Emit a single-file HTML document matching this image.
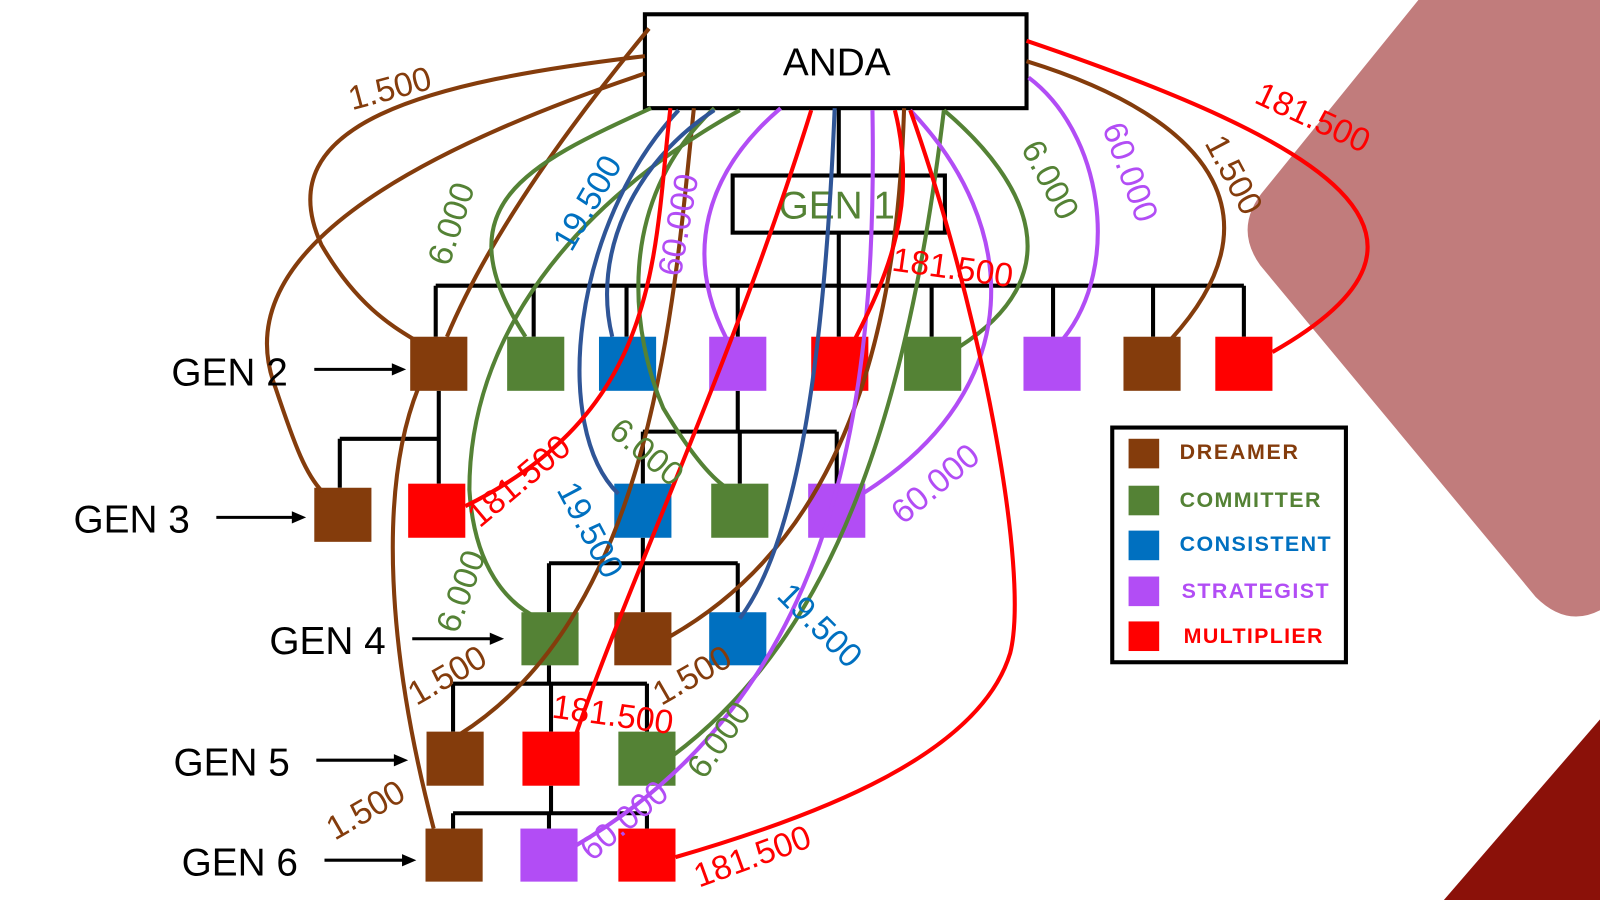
<!DOCTYPE html>
<html><head><style>html,body{margin:0;padding:0;background:#fff;width:1600px;height:900px;overflow:hidden}</style></head>
<body>
<svg width="1600" height="900" viewBox="0 0 1568 882" preserveAspectRatio="none" xmlns="http://www.w3.org/2000/svg" font-family="Liberation Sans, sans-serif">
<path d="M1390,0 L1568,0 L1568,598 Q1535,615 1505,585 L1235,260 Q1208,222 1240,185 Z" fill="#c17c7c"/>
<path d="M1568,705 L1415,882 L1568,882 Z" fill="#8b1109"/>

<g stroke="#000" stroke-width="4" fill="none">
<path d="M822,106 V280 M427,280 H1219 M427,280 V330 M523,280 V330 M614,280 V330 M723,280 V330 M822,280 V330 M913,280 V330 M1032,280 V330 M1130,280 V330 M1219,280 V330"/>
<path d="M430,383 V430 M333,430 H430 V474 M333,430 V478"/>
<path d="M723,383 V423 M630,423 H820 M630,423 V474 M725,423 V474 M820,423 V474"/>
<path d="M630,527 V552 M538,552 H723 M538,552 V600 M630,552 V600 M723,552 V600"/>
<path d="M538,652 V670 M444,670 H634 M444,670 V717 M540,670 V717 M634,670 V717"/>
<path d="M540,770 V797 M444,797 H634 M444,797 V812 M538,797 V812 M634,797 V812"/>
</g>
<rect x="632" y="14" width="374" height="92" fill="#fff" stroke="#000" stroke-width="4"/>
<text x="820" y="74" font-size="38" text-anchor="middle">ANDA</text>
<rect x="718" y="172" width="208" height="56" fill="#fff" stroke="#000" stroke-width="4"/>
<text x="820" y="214" font-size="38" text-anchor="middle" fill="#548235">GEN 1</text>

<g>
<rect x="402" y="330" width="56" height="53" fill="#843c0c"/>
<rect x="497" y="330" width="56" height="53" fill="#548235"/>
<rect x="587" y="330" width="56" height="53" fill="#0070c0"/>
<rect x="695" y="330" width="56" height="53" fill="#b24df5"/>
<rect x="795" y="330" width="56" height="53" fill="#ff0000"/>
<rect x="886" y="330" width="56" height="53" fill="#548235"/>
<rect x="1003" y="330" width="56" height="53" fill="#b24df5"/>
<rect x="1101" y="330" width="56" height="53" fill="#843c0c"/>
<rect x="1191" y="330" width="56" height="53" fill="#ff0000"/>
<rect x="308" y="478" width="56" height="53" fill="#843c0c"/>
<rect x="400" y="474" width="56" height="53" fill="#ff0000"/>
<rect x="602" y="474" width="56" height="53" fill="#0070c0"/>
<rect x="697" y="474" width="56" height="53" fill="#548235"/>
<rect x="792" y="474" width="56" height="53" fill="#b24df5"/>
<rect x="511" y="600" width="56" height="52" fill="#548235"/>
<rect x="602" y="600" width="56" height="52" fill="#843c0c"/>
<rect x="695" y="600" width="56" height="52" fill="#0070c0"/>
<rect x="418" y="717" width="56" height="53" fill="#843c0c"/>
<rect x="512" y="717" width="56" height="53" fill="#ff0000"/>
<rect x="606" y="717" width="56" height="53" fill="#548235"/>
<rect x="417" y="812" width="56" height="52" fill="#843c0c"/>
<rect x="510" y="812" width="56" height="52" fill="#b24df5"/>
<rect x="606" y="812" width="56" height="52" fill="#ff0000"/>
</g>

<g fill="none" stroke-width="4">
<g stroke="#843c0c">
<path d="M632,55 C420,80 260,120 315,240 C350,300 385,320 408,334"/>
<path d="M632,72 C400,150 220,250 270,380 C290,440 300,465 316,482"/>
<path d="M636,28 C560,120 480,230 438,330"/>
<path d="M410,380 C370,480 380,640 425,812"/>
<path d="M680,106 C660,300 640,600 450,720"/>
<path d="M886,106 C880,300 840,520 656,624"/>
<path d="M1006,60 C1200,120 1250,220 1148,332"/>
</g>
<g stroke="#548235">
<path d="M638,106 C520,160 430,200 515,330"/>
<path d="M725,108 C560,200 460,330 460,480 C465,560 500,590 520,602"/>
<path d="M700,106 C600,200 620,330 650,400 C680,450 700,470 712,478"/>
<path d="M925,108 C890,400 820,620 660,740"/>
<path d="M925,108 C1010,180 1050,270 940,340"/>
</g>
<g stroke="#2f5597">
<path d="M700,108 C620,160 580,250 600,330"/>
<path d="M665,108 C560,220 540,420 606,484"/>
<path d="M818,106 C810,300 790,520 725,606"/>
</g>
<g stroke="#b24df5">
<path d="M765,106 C690,170 670,250 712,332"/>
<path d="M892,108 C1000,220 1010,380 845,484"/>
<path d="M1008,76 C1080,130 1100,260 1042,332"/>
<path d="M855,108 C860,400 820,680 562,830"/>
</g>
<g stroke="#ff0000">
<path d="M1006,40 C1300,140 1450,230 1247,345"/>
<path d="M657,106 C640,250 650,400 456,496"/>
<path d="M795,108 C720,350 620,560 565,718"/>
<path d="M877,108 C900,200 870,270 838,332"/>
<path d="M892,108 C960,300 1010,560 990,640 C960,740 800,800 662,840"/>
</g>
</g>

<g font-size="33">
<text transform="translate(345,108) rotate(-15)" fill="#843c0c">1.500</text>
<text transform="translate(1180,140) rotate(62)" fill="#843c0c">1.500</text>
<text transform="translate(408,692) rotate(-30)" fill="#843c0c">1.500</text>
<text transform="translate(648,692) rotate(-30)" fill="#843c0c">1.500</text>
<text transform="translate(328,824) rotate(-30)" fill="#843c0c">1.500</text>
<text transform="translate(440,262) rotate(-72)" fill="#548235">6.000</text>
<text transform="translate(1000,145) rotate(62)" fill="#548235">6.000</text>
<text transform="translate(595,425) rotate(40)" fill="#548235">6.000</text>
<text transform="translate(448,622) rotate(-70)" fill="#548235">6.000</text>
<text transform="translate(690,765) rotate(-55)" fill="#548235">6.000</text>
<text transform="translate(560,248) rotate(-60)" fill="#0070c0">19.500</text>
<text transform="translate(545,480) rotate(62)" fill="#0070c0">19.500</text>
<text transform="translate(760,585) rotate(45)" fill="#0070c0">19.500</text>
<text transform="translate(1080,125) rotate(70)" fill="#b24df5">60.000</text>
<text transform="translate(667,272) rotate(-80)" fill="#b24df5">60.000</text>
<text transform="translate(885,515) rotate(-40)" fill="#b24df5">60.000</text>
<text transform="translate(580,845) rotate(-40)" fill="#b24df5">60.000</text>
<text transform="translate(1228,100) rotate(25)" fill="#ff0000">181.500</text>
<text transform="translate(873,265) rotate(8)" fill="#ff0000">181.500</text>
<text transform="translate(470,518) rotate(-40)" fill="#ff0000">181.500</text>
<text transform="translate(540,703) rotate(8)" fill="#ff0000">181.500</text>
<text transform="translate(685,870) rotate(-20)" fill="#ff0000">181.500</text>
</g>

<g font-size="38">
<text x="168" y="378">GEN 2</text>
<text x="72" y="522">GEN 3</text>
<text x="264" y="641">GEN 4</text>
<text x="170" y="760">GEN 5</text>
<text x="178" y="858">GEN 6</text>
</g>
<g stroke="#000" stroke-width="3">
<line x1="308" y1="362" x2="388" y2="362"/>
<line x1="212" y1="507" x2="290" y2="507"/>
<line x1="404" y1="626" x2="484" y2="626"/>
<line x1="310" y1="745" x2="390" y2="745"/>
<line x1="318" y1="843" x2="398" y2="843"/>
</g>
<g fill="#000">
<path d="M398,362 L384,356 L384,368 Z"/>
<path d="M300,507 L286,501 L286,513 Z"/>
<path d="M494,626 L480,620 L480,632 Z"/>
<path d="M400,745 L386,739 L386,751 Z"/>
<path d="M408,843 L394,837 L394,849 Z"/>
</g>

<rect x="1090" y="419" width="229" height="230" fill="#fff" stroke="#000" stroke-width="4"/>
<rect x="1106" y="430" width="30" height="29" fill="#843c0c"/>
<rect x="1106" y="476" width="30" height="29" fill="#548235"/>
<rect x="1106" y="520" width="30" height="29" fill="#0070c0"/>
<rect x="1106" y="565" width="30" height="29" fill="#b24df5"/>
<rect x="1106" y="609" width="30" height="29" fill="#ff0000"/>
<g font-size="21" font-weight="bold">
<text x="1156" y="450" fill="#843c0c" textLength="116">DREAMER</text>
<text x="1156" y="497" fill="#548235" textLength="138">COMMITTER</text>
<text x="1156" y="540" fill="#0070c0" textLength="148">CONSISTENT</text>
<text x="1158" y="586" fill="#b24df5" textLength="144">STRATEGIST</text>
<text x="1160" y="630" fill="#ff0000" textLength="136">MULTIPLIER</text>
</g>
</svg>
</body></html>
